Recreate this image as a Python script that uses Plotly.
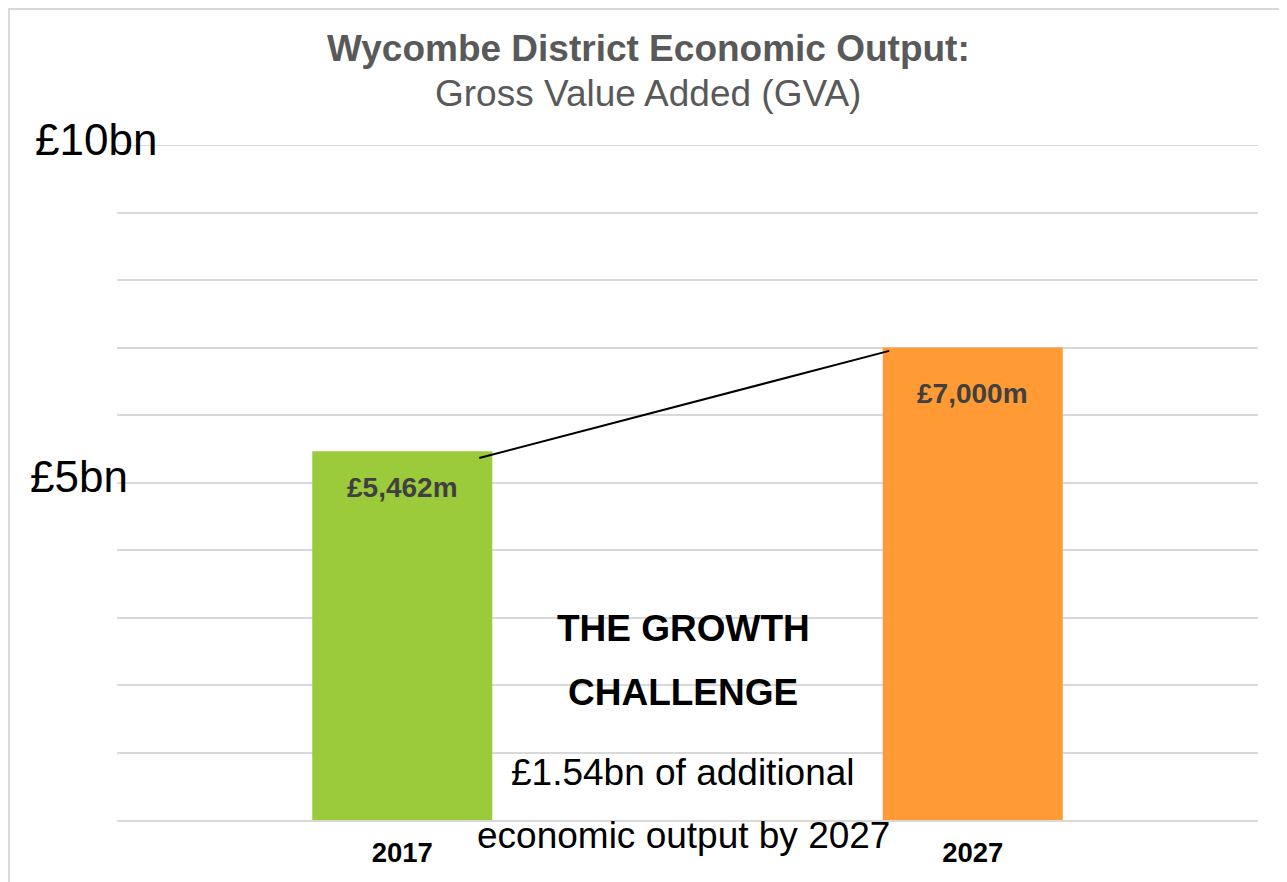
import plotly.graph_objects as go

# ---- data ----
years = ["2017", "2027"]
gva_bn = [5.462, 7.000]
value_labels = ["£5,462m", "£7,000m"]
bar_colors = ["#9BCB3B", "#FF9A35"]
y_tick_vals = [10, 5]
y_tick_text = ["£10bn", "£5bn"]

FONT = "Liberation Sans, Arial, sans-serif"
GRID = "#D9D9D9"

fig = go.Figure()
fig.add_trace(go.Bar(
    x=years, y=gva_bn,
    marker=dict(color=bar_colors, line=dict(width=0)),
    hoverinfo="skip", showlegend=False,
))

annotations = []
# value labels inside bars (x given as category index)
label_shifts = [-19, -28]
for i, (v, t, s) in enumerate(zip(gva_bn, value_labels, label_shifts)):
    annotations.append(dict(x=i, y=v, xref="x", yref="y", text=f"<b>{t}</b>",
                            showarrow=False, yanchor="top", yshift=s,
                            font=dict(family=FONT, size=28, color="#404040")))
# y labels
for val, txt, xs, ys in zip(y_tick_vals, y_tick_text, [-84, -89], [6, 6]):
    annotations.append(dict(x=0, y=val, xref="paper", yref="y", text=txt,
                            showarrow=False, xanchor="left", yanchor="middle",
                            xshift=xs, yshift=ys,
                            font=dict(family=FONT, size=44, color="#000000")))
# title
annotations.append(dict(x=0.4654, y=1.143, xref="paper", yref="paper",
                        text="<b>Wycombe District Economic Output:</b>", showarrow=False,
                        xanchor="center", yanchor="middle",
                        font=dict(family=FONT, size=37, color="#595959")))
annotations.append(dict(x=0.4654, y=1.077, xref="paper", yref="paper",
                        text="Gross Value Added (GVA)", showarrow=False,
                        xanchor="center", yanchor="middle",
                        font=dict(family=FONT, size=37, color="#595959")))
# growth challenge text (paper coordinates so the last line can sit below the axis)
for txt, yy, bold in [("THE GROWTH", 0.2844, True), ("CHALLENGE", 0.1896, True),
                      ("£1.54bn of additional", 0.0711, False),
                      ("economic output by 2027", -0.0237, False)]:
    annotations.append(dict(x=0.4962, y=yy, xref="paper", yref="paper",
                            text=f"<b>{txt}</b>" if bold else txt,
                            showarrow=False, xanchor="center", yanchor="middle",
                            font=dict(family=FONT, size=37, color="#000000")))

shapes = [
    # top gridline (10bn)
    dict(type="line", xref="paper", yref="y", x0=0, x1=1, y0=10, y1=10,
         line=dict(color=GRID, width=2), layer="below"),
    # connector line between bars
    dict(type="line", xref="x", yref="y", x0=0.135, y0=gva_bn[0] - 0.1,
         x1=0.8536, y1=gva_bn[1] - 0.05, line=dict(color="#000000", width=2)),
    # outer border
    dict(type="rect", xref="paper", yref="paper", x0=-0.0947, y0=-0.12,
         x1=1.04, y1=1.2015, line=dict(color=GRID, width=2), layer="below"),
]

fig.update_layout(
    width=1287, height=882,
    margin=dict(l=109, r=37, t=137, b=70, autoexpand=False),
    paper_bgcolor="white", plot_bgcolor="white",
    bargap=0.6845,
    annotations=annotations, shapes=shapes,
    xaxis=dict(type="category", categoryorder="array", categoryarray=years,
               range=[-0.5, 1.5], autorange=False,
               showgrid=False, showline=True, linecolor=GRID, linewidth=2,
               ticks="", tickfont=dict(family=FONT, size=27.5, color="#000000"),
               tickprefix="<b>", ticksuffix="</b>", ticklabelstandoff=7,
               fixedrange=True),
    yaxis=dict(range=[0, 10], autorange=False, dtick=1, showgrid=True,
               gridcolor=GRID, gridwidth=2,
               showticklabels=False, zeroline=False, fixedrange=True),
    font=dict(family=FONT),
)

fig.write_html("out.html")
